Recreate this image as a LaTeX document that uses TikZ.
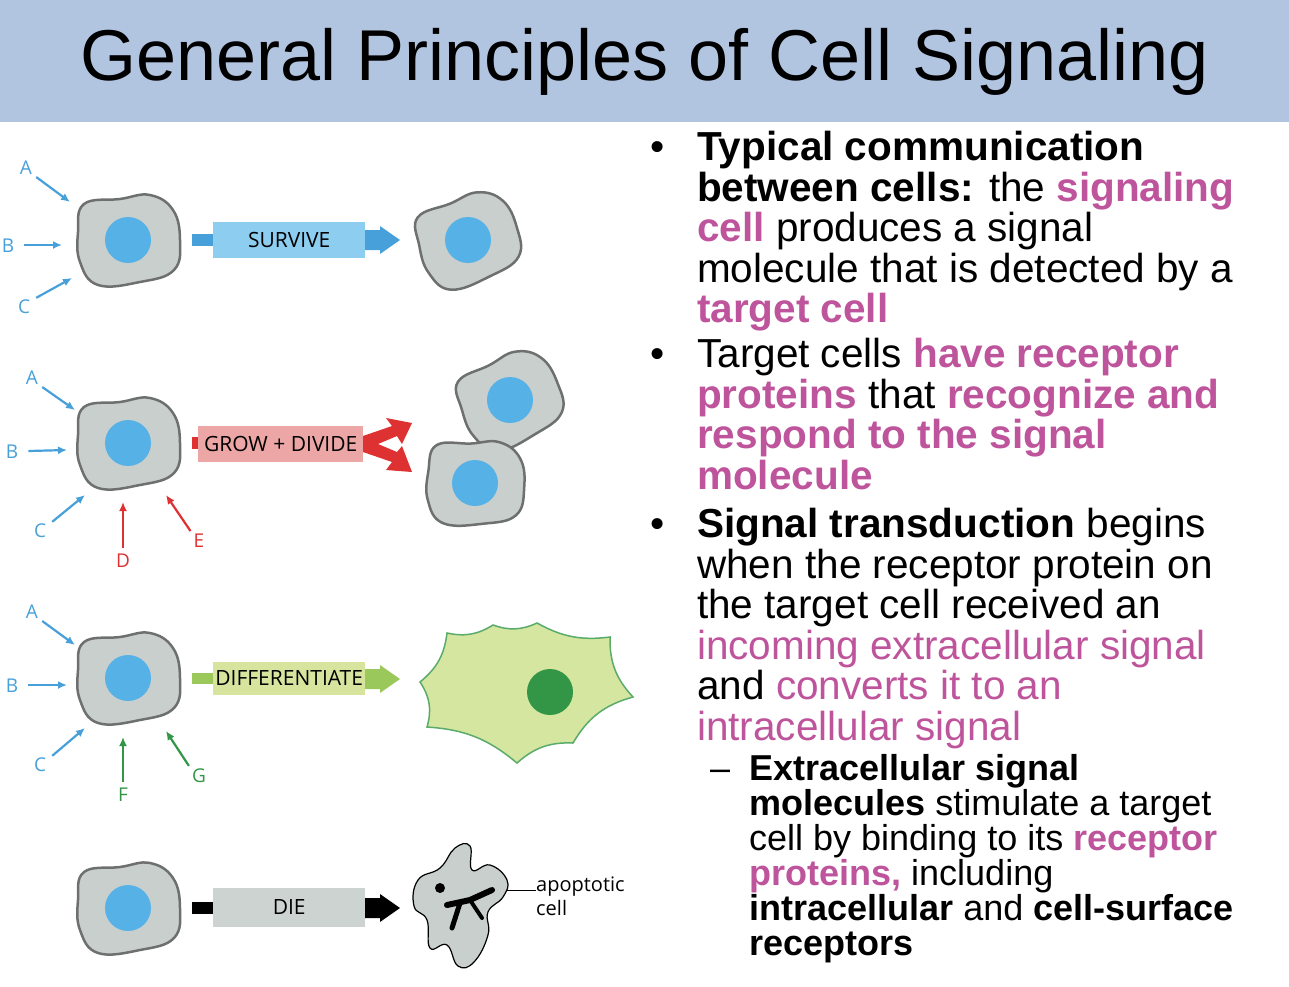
\documentclass[tikz,border=0pt]{standalone}
\usepackage{fontspec}
\setmainfont{Liberation Sans}
\newfontfamily\lab{Open Sans}
\definecolor{hdr}{RGB}{178,197,224}
\definecolor{pk}{RGB}{190,84,155}
\definecolor{cellf}{RGB}{201,207,205}
\definecolor{celld}{RGB}{110,112,112}
\definecolor{nuc}{RGB}{86,178,230}
\definecolor{sblue}{RGB}{72,160,218}
\definecolor{sboxb}{RGB}{140,205,240}
\definecolor{sred}{RGB}{222,50,50}
\definecolor{sboxr}{RGB}{236,166,166}
\definecolor{sgreen}{RGB}{155,200,90}
\definecolor{sboxg}{RGB}{214,228,158}
\definecolor{dgreen}{RGB}{50,150,70}
\definecolor{lgreen}{RGB}{212,230,160}
\definecolor{sboxk}{RGB}{205,211,208}
\begin{document}
\begin{tikzpicture}[x=1pt,y=-1pt,
 cellstyle/.style={fill=cellf,draw=celld,line width=2.5pt},
 lbl/.style={font=\lab\fontsize{19}{20}\selectfont,inner sep=0},
 inp/.style={line width=2.2pt,-{Latex[length=9pt,width=8pt]}},
 box/.style={inner sep=0,minimum height=36pt,font=\lab\fontsize{21}{22}\selectfont},
 body/.style={anchor=north west,inner sep=0,align=left,font=\fontsize{40.5}{40.5}\selectfont},
 sub/.style={anchor=north west,inner sep=0,align=left,font=\fontsize{36}{35}\selectfont}]
\usetikzlibrary{arrows.meta}
\useasboundingbox (0,0) rectangle (1289,986);
\fill[hdr] (0,0) rectangle (1289,122);
\node[font=\fontsize{72}{78}\selectfont,anchor=base] (title) at (645,80) {General Principles of Cell Signaling};
\newcommand\mycell[4]{%
 \draw[cellstyle,shift={(#1,#2)},rotate=#4,scale=#3] plot[smooth cycle,tension=0.7] coordinates {(-44,-36)(-8,-41)(22,-45)(45,-30)(52,0)(46,30)(12,42)(-30,45)(-48,22)(-50,-8)};
 \fill[nuc] (#1,#2) circle (23);}
% row 1
\mycell{128}{240}{1}{0}
\mycell{468}{240}{0.97}{15}
\node[lbl,text=sblue] (a1) at (26,168) {A};
\node[lbl,text=sblue] (b1) at (8,246) {B};
\node[lbl,text=sblue] (c1) at (24,307) {C};
\coordinate (a1e) at (70,202); \coordinate (b1e) at (62,245); \coordinate (c1e) at (72,278);
\draw[inp,sblue] (a1.south east)++(4,2) -- (a1e);
\draw[inp,sblue] (b1.east)++(10,-1) -- (b1e);
\draw[inp,sblue] (c1.north east)++(6,-2) -- (c1e);
\fill[sblue] (192,234) rectangle (213,246);
\node[box,fill=sboxb,minimum width=152pt,anchor=west] (sv) at (213,240) {SURVIVE};
\coordinate (sve) at (400,240);
\fill[sblue] (365,230) -- (380,230) -- (380,226) -- (sve) -- (380,254) -- (380,250) -- (365,250) -- cycle;
% row 2
\mycell{128}{443}{1}{0}
\mycell{510}{400}{0.97}{20}
\mycell{475}{483}{0.95}{-5}
\node[lbl,text=sblue] (a2) at (32,378) {A};
\node[lbl,text=sblue] (b2) at (12,452) {B};
\node[lbl,text=sblue] (c2) at (40,531) {C};
\node[lbl,text=sred] (d2) at (123,561) {D};
\node[lbl,text=sred] (e2) at (199,541) {E};
\draw[inp,sblue] (a2.south east)++(4,2) -- (75,410);
\draw[inp,sblue] (b2.east)++(10,-1) -- (67,450);
\draw[inp,sblue] (c2.north east)++(6,-2) -- (85,495);
\draw[inp,sred] (d2.north)++(0,-6) -- (123,502);
\draw[inp,sred] (e2.north west)++(-3,-3) -- (166,495);
\fill[sred] (192,437) rectangle (198,449);
\node[box,fill=sboxr,minimum width=165pt,anchor=west] (gd) at (198,444) {GROW + DIVIDE};
\coordinate (gd1) at (412,423); \coordinate (gd2) at (412,472);
\fill[sred] (363,436) -- (392,426) -- (386,418) -- (gd1) -- (402,444) -- (397,436) -- (378,444) -- (397,452) -- (402,446) -- (gd2) -- (386,470) -- (392,462) -- (363,452) -- cycle;
% row 3
\mycell{128}{678}{1}{0}
\node[lbl,text=sblue] (a3) at (32,612) {A};
\node[lbl,text=sblue] (b3) at (12,686) {B};
\node[lbl,text=sblue] (c3) at (40,765) {C};
\node[lbl,text=dgreen] (f3) at (123,795) {F};
\node[lbl,text=dgreen] (g3) at (199,776) {G};
\draw[inp,sblue] (a3.south east)++(4,2) -- (75,645);
\draw[inp,sblue] (b3.east)++(10,-1) -- (67,685);
\draw[inp,sblue] (c3.north east)++(6,-2) -- (85,728);
\draw[inp,dgreen] (f3.north)++(0,-6) -- (123,737);
\draw[inp,dgreen] (g3.north west)++(-3,-3) -- (166,731);
\fill[sgreen] (192,673) rectangle (213,684);
\node[box,fill=sboxg,minimum width=152pt,minimum height=33pt,anchor=west] (df) at (213,678) {DIFFERENTIATE};
\fill[sgreen] (365,669) -- (380,669) -- (380,665) -- (400,679) -- (380,693) -- (380,689) -- (365,689) -- cycle;
\draw[fill=lgreen,draw=dgreen!80,line width=1.5pt] (420,682) to[bend right=22] (447,633) to[bend right=22] (493,625) to[bend right=22] (537,623) to[bend right=18] (610,637) to[bend right=22] (633,697) to[bend right=22] (573,743) to[bend right=22] (517,763) to[bend right=18] (427,727) to[bend right=25] cycle;
\fill[dgreen] (550,692) circle (23);
% row 4
\mycell{128}{908}{1}{0}
\fill[black] (192,902) rectangle (213,914);
\node[box,fill=sboxk,minimum width=152pt,minimum height=39pt,anchor=west] (die) at (213,907) {DIE};
\fill[black] (365,898) -- (380,898) -- (380,894) -- (400,908) -- (380,922) -- (380,918) -- (365,918) -- cycle;
\draw[fill=cellf,draw=black,line width=1.2pt] plot[smooth cycle,tension=0.75] coordinates {(418,880)(440,868)(455,848)(470,846)(472,870)(490,865)(507,880)(503,897)(488,912)(488,935)(474,962)(458,966)(447,945)(430,948)(427,920)(414,906)};
\fill (440,888) circle (5);
\draw[line width=6pt,line cap=round] (447,905) -- (470,900) -- (492,890);
\draw[line width=5pt,line cap=round] (460,903) -- (452,928);
\draw[line width=4pt,line cap=round] (470,900) -- (482,918);
\node[font=\lab\fontsize{20}{24}\selectfont,align=left,anchor=north west,inner sep=0] (apo) at (536,877) {apoptotic\\cell};
\draw[line width=1pt] (507,890) -- (apo.west |- 0,890);
% text
\node[body,anchor=base] (bl1) at (658,160) {•};
\node[body] (t1) at (697,131) {\textbf{Typical communication}\\\textbf{between cells:} the \textcolor{pk}{\textbf{signaling}}\\\textcolor{pk}{\textbf{cell}} produces a signal\\molecule that is detected by a\\\textcolor{pk}{\textbf{target cell}}};
\node[body,anchor=base] (bl2) at (658,367) {•};
\node[body] (t2) at (697,338) {Target cells \textcolor{pk}{\textbf{have receptor}}\\\textcolor{pk}{\textbf{proteins}} that \textcolor{pk}{\textbf{recognize and}}\\\textcolor{pk}{\textbf{respond to the signal}}\\\textcolor{pk}{\textbf{molecule}}};
\node[body,anchor=base] (bl3) at (658,537) {•};
\node[body] (t3) at (697,508) {\textbf{Signal transduction} begins\\when the receptor protein on\\the target cell received an\\\textcolor{pk}{incoming extracellular signal}\\and \textcolor{pk}{converts it to an}\\\textcolor{pk}{intracellular signal}};
\node[sub,anchor=base] (bl4) at (720,780) {–};
\node[sub] (t4) at (749,754) {\textbf{Extracellular signal}\\\textbf{molecules} stimulate a target\\cell by binding to its \textcolor{pk}{\textbf{receptor}}\\\textcolor{pk}{\textbf{proteins,}} including\\\textbf{intracellular} and \textbf{cell-surface}\\\textbf{receptors}};
\end{tikzpicture}
\end{document}
